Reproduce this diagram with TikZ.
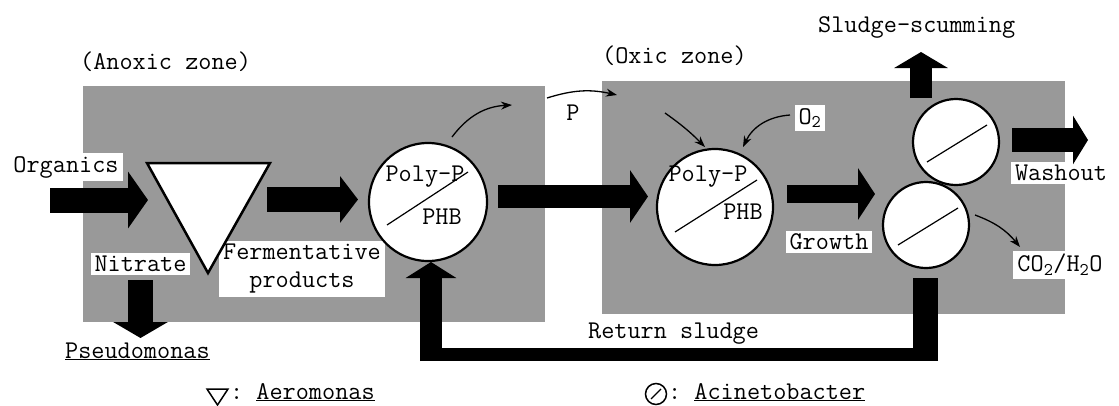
\documentclass[tikz,border=0pt]{standalone}
\usepackage{fontspec}
\usetikzlibrary{arrows.meta}
\begin{document}
\begin{tikzpicture}[x=1pt,y=-1pt,
  every node/.style={font=\ttfamily\fontsize{25.5}{28}\selectfont, inner sep=0pt},
  zone/.style={fill=black!40, draw=none},
  wbox/.style={fill=white, inner xsep=4pt, inner ysep=3pt},
  cell/.style={circle, draw, line width=2.2pt, fill=white, inner sep=0pt, minimum size=#1pt},
  diag/.style={line width=1.2pt},
  fat/.style n args={3}{line width=#1pt, -{Triangle[length=#2pt,width=#3pt]}},
  thinarrow/.style={line width=1.3pt, -{Stealth[length=11pt,width=8pt]}}]
\useasboundingbox (0,0) rectangle (1119,405);
% zones
\fill[zone] (83,86) rectangle (545,322);
\fill[zone] (602,81) rectangle (1065,314);
\node[anchor=base west] (anox) at (80,69) {(Anoxic zone)};
\node[anchor=base west] (oxic) at (602,63) {(Oxic zone)};
\node[anchor=base west] (scum) at (818,32) {Sludge-scumming};
% white label boxes
\node[wbox] (org) at (66,167) {Organics};
\node[wbox] (nit) at (140.5,264) {Nitrate};
\node[wbox, align=center] (ferm) at (302,269) {Fermentative\\products};
\node[wbox] (grow) at (829,242) {Growth};
\node[wbox] (wash) at (1061,173) {Washout};
\node[wbox] (co2) at (1060,265) {CO\textsubscript{2}/H\textsubscript{2}O};
\node[wbox] (o2) at (810,118) {O\textsubscript{2}};
\node (p) at (573,113) {P};
% triangle (Aeromonas)
\coordinate (tA) at (147,163); \coordinate (tB) at (270,163); \coordinate (tC) at (208,273);
\draw[line width=2.5pt, fill=white, line join=miter] (tA) -- (tB) -- (tC) -- cycle;
% cells
\node[cell=118] (c1) at (428,202) {};
\draw[diag] (387,225) -- (468,172);
\node (c1a) at (425,177) {Poly-P};
\node (c1b) at (442,217) {PHB};
\node[cell=116] (c2) at (715,207) {};
\draw[diag] (675,232) -- (757,180);
\node (c2a) at (708,177) {Poly-P};
\node (c2b) at (743,212) {PHB};
\node[cell=86] (c3) at (956,142) {};
\draw[diag] (927,162) -- (987,125);
\node[cell=86] (c4) at (926,225) {};
\draw[diag] (898,245) -- (958,208);
% fat arrows
\coordinate (orgS) at (50,200); \coordinate (orgE) at (148,200);
\draw[fat={25}{20}{56}] (orgS) -- (orgE);
\coordinate (ferS) at (267,199.5); \coordinate (ferE) at (358,199.5);
\draw[fat={25}{18}{46}] (ferS) -- (ferE);
\coordinate (midS) at (498,196.5); \coordinate (midE) at (648,196.5);
\draw[fat={23}{18}{52}] (midS) -- (midE);
\coordinate (groS) at (787,194); \coordinate (groE) at (875,194);
\draw[fat={18}{17}{51}] (groS) -- (groE);
\coordinate (scS) at (921,98); \coordinate (scE) at (921,52);
\draw[fat={22}{16}{53}] (scS) -- (scE);
\coordinate (waS) at (1012,140); \coordinate (waE) at (1088,140);
\draw[fat={24}{15}{48}] (waS) -- (waE);
\coordinate (niS) at (140.5,280); \coordinate (niE) at (140.5,338);
\draw[fat={25}{16}{54}] (niS) -- (niE);
% return sludge
\coordinate (rs1) at (925.5,278); \coordinate (rs2) at (925.5,361);
\coordinate (rs3) at (938,354.5); \coordinate (rs4) at (420,354.5);
\coordinate (rs5) at (431,361); \coordinate (rs6) at (431,262);
\draw[line width=25pt] (rs1) -- (rs2);
\draw[line width=13pt] (rs3) -- (rs4);
\draw[fat={22}{16}{50}] (rs5) -- (rs6);
\node[anchor=base west] (ret) at (588,338) {Return sludge};
% thin arrows
\coordinate (p1s) at (452,137); \coordinate (p1e) at (512,105);
\draw[thinarrow] (p1s) to[bend left=25] (p1e);
\coordinate (p2s) at (547,98); \coordinate (p2e) at (617,95);
\draw[thinarrow] (p2s) to[bend left=15] (p2e);
\coordinate (o1s) at (665,113); \coordinate (o1e) at (705,147);
\draw[thinarrow] (o1s) to[bend left=5] (o1e);
\coordinate (o2s) at (790,115); \coordinate (o2e) at (743,147);
\draw[thinarrow] (o2s) to[bend right=30] (o2e);
\coordinate (cos) at (975,215); \coordinate (coe) at (1020,247);
\draw[thinarrow] (cos) to[bend left=15] (coe);
% legend
\node[anchor=base west] (pseudo) at (65,358) {\underline{Pseudomonas}};
\coordinate (lA) at (207,389); \coordinate (lB) at (228,389); \coordinate (lC) at (217.5,405);
\draw[line width=1.5pt] (lA) -- (lB) -- (lC) -- cycle;
\node[anchor=base west] (aero) at (230,399) {:\ \underline{Aeromonas}};
\node[circle, draw, line width=1.5pt, minimum size=21pt] (lc) at (656,394) {};
\draw[line width=1.2pt] (651,399) -- (661,389);
\node[anchor=base west] (acin) at (668,399) {:\ \underline{Acinetobacter}};
\end{tikzpicture}
\end{document}
